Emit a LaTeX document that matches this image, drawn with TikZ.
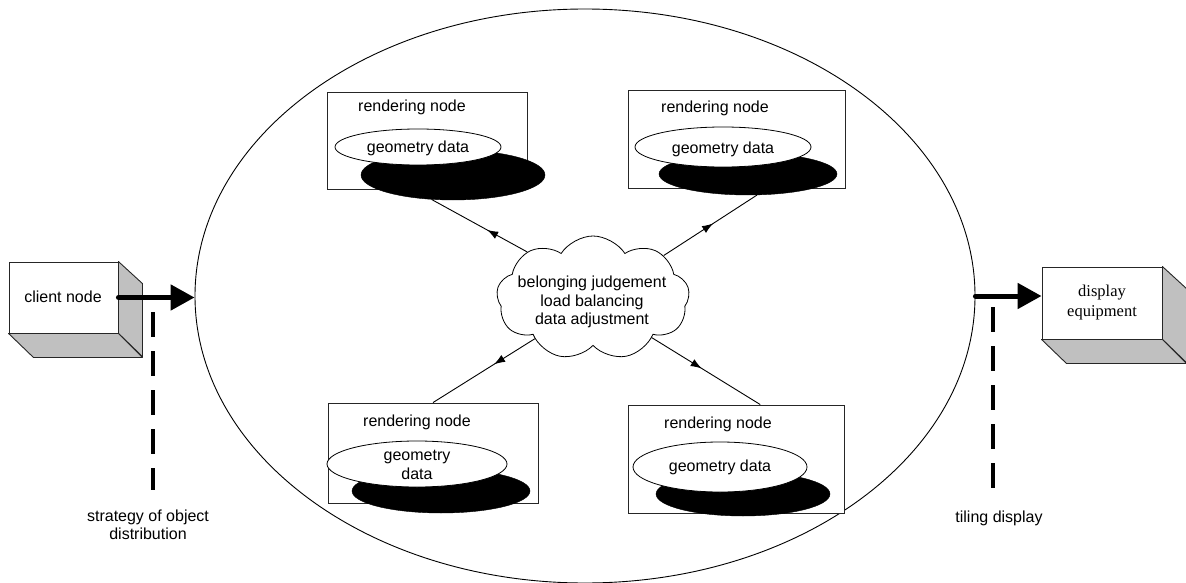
\documentclass[tikz,border=0pt]{standalone}
\usepackage{fontspec}
\setmainfont{Liberation Sans}
\newfontfamily\timesf{Liberation Serif}
\usetikzlibrary{shapes.geometric,shapes.symbols,arrows.meta,decorations.markings,calc}
\definecolor{sidegray}{HTML}{C0C0C0}
\begin{document}
\begin{tikzpicture}[x=1pt,y=-1pt,
  txt/.style={font=\fontsize{16}{18.5}\selectfont, inner sep=0pt, align=center},
  serif/.style={font=\timesf\fontsize{16.5}{20}\selectfont, inner sep=0pt, align=center},
  rbox/.style={draw=black!85, line width=0.9pt, rectangle, inner sep=0pt, fill=white},
  shadowell/.style={ellipse, fill=black, draw=black, inner sep=0pt},
  whiteell/.style={ellipse, fill=white, draw=black, line width=0.8pt, inner sep=0pt},
  frontface/.style={draw=black!85, line width=0.9pt, fill=white, rectangle, inner sep=0pt},
  sideface/.style={draw=black!85, line width=0.9pt, fill=sidegray, line join=round},
  midarrow/.style={line width=0.9pt, decoration={markings, mark=at position #1 with {\arrow{Latex[length=11pt,width=8pt]}}}, postaction=decorate},
  bigarrow/.style={line width=5pt, line cap=round, -{Triangle[length=24pt,width=25pt]}},
  dashline/.style={line width=4pt, dash pattern=on 25pt off 14pt}
]
\useasboundingbox (0,0) rectangle (1186,583);

% big ellipse
\node[draw, ellipse, minimum width=780pt, minimum height=574pt, inner sep=0pt, line width=0.9pt] (ring) at (585,296) {};

% rendering node boxes
\node[rbox, minimum width=200pt, minimum height=97pt] (tlbox) at (427,140.5) {};
\node[rbox, minimum width=217pt, minimum height=98pt] (trbox) at (736.5,139) {};
\node[rbox, minimum width=210pt, minimum height=100pt] (blbox) at (433,453) {};
\node[rbox, minimum width=216pt, minimum height=108pt] (brbox) at (736,459) {};

\node[txt] (tltitle) at (412,107) {rendering node};
\node[txt] (trtitle) at (715,108) {rendering node};
\node[txt] (bltitle) at (417,422) {rendering node};
\node[txt] (brtitle) at (718,424) {rendering node};

% shadow ellipses
\node[shadowell, minimum width=184pt, minimum height=50pt] (tlshadow) at (453,175) {};
\node[shadowell, minimum width=178pt, minimum height=42pt] (trshadow) at (748,174) {};
\node[shadowell, minimum width=178pt, minimum height=44pt] (blshadow) at (441,491) {};
\node[shadowell, minimum width=174pt, minimum height=44pt] (brshadow) at (743,494) {};

% white ellipses
\node[whiteell, minimum width=166pt, minimum height=36pt] (tldata) at (418,147) {};
\node[whiteell, minimum width=176pt, minimum height=40pt] (trdata) at (723,147) {};
\node[whiteell, minimum width=180pt, minimum height=46pt] (bldata) at (417,464) {};
\node[whiteell, minimum width=174pt, minimum height=50pt] (brdata) at (720,467) {};

\node[txt] (tldatatext) at (418,148) {geometry data};
\node[txt] (trdatatext) at (723,149) {geometry data};
\node[txt] (bldatatext) at (417,465) {geometry\\data};
\node[txt] (brdatatext) at (720,467) {geometry data};

% cloud
\node[cloud, draw, line width=0.8pt, cloud puffs=9, cloud puff arc=115, cloud ignores aspect, minimum width=193pt, minimum height=124pt, inner sep=0pt] (cloud) at (593,298) {};
\node[txt] (cloudtext) at (592,302) {belonging judgement\\load balancing\\data adjustment};

% connectors from cloud
\draw[midarrow=0.42] (cloud.145) -- (tlshadow.229);
\draw[midarrow=0.53] (cloud.31) -- (trshadow.293);
\draw[midarrow=0.40] (cloud.215) -- (blbox.north);
\draw[midarrow=0.46] (cloud.326) -- (brbox.66);

% client node (3D box)
\node[frontface, minimum width=109pt, minimum height=71pt] (client) at (63.5,297.5) {};
\draw[sideface] (client.north east) -- ++(24,22) -- ++(0,73) -- (client.south east) -- cycle;
\draw[sideface] (client.south west) -- (client.south east) -- ++(24,24) -- ++(-109,0) -- cycle;
\node[txt] (clienttext) at (63,297) {client node};

% display equipment (3D box)
\node[frontface, minimum width=120pt, minimum height=72pt] (display) at (1102,303) {};
\draw[sideface] (display.north east) -- ++(24,22) -- ++(0,74) -- (display.south east) -- cycle;
\draw[sideface] (display.south west) -- (display.south east) -- ++(24,24) -- ++(-120,0) -- cycle;
\node[serif] (displaytext) at (1102,303) {display\\equipment};

% thick arrows
\draw[bigarrow] (client.east) -- (client.east -| ring.west);
\draw[bigarrow] (ring.east) -- (ring.east -| display.west);

% dashed lines and labels
\node[txt] (stratlabel) at (148,525) {strategy of object\\distribution};
\node[txt] (tilelabel) at (999,518) {tiling display};
\coordinate (d1top) at (153,312);
\coordinate (d1bot) at (153,490);
\coordinate (d2top) at (993,307);
\coordinate (d2bot) at (993,497);
\draw[dashline] (d1top) -- (d1bot);
\draw[dashline] (d2top) -- (d2bot);
\end{tikzpicture}
\end{document}
